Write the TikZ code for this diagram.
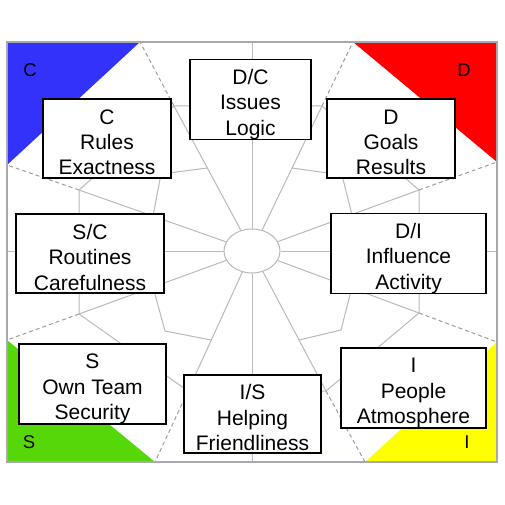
\documentclass[tikz,border=0pt]{standalone}
\usepackage{fontspec}
\setmainfont{Liberation Sans}
\usetikzlibrary{shapes.geometric}
\definecolor{webgray}{RGB}{185,185,190}
\definecolor{dashgray}{RGB}{155,155,162}
\definecolor{framegray}{RGB}{168,168,176}
\definecolor{cblue}{RGB}{50,50,250}
\definecolor{dred}{RGB}{255,0,0}
\definecolor{sgreen}{RGB}{85,215,10}
\definecolor{iyellow}{RGB}{255,255,0}
\newcommand{\bxt}[3]{\rule{0pt}{24.5pt}#1\\#2\\#3\rule[-2.5pt]{0pt}{2.5pt}}
\begin{document}
\begin{tikzpicture}[x=1pt,y=-1pt,
  web/.style={draw=webgray,line width=1pt},
  dashweb/.style={draw=dashgray,line width=1pt,dash pattern=on 4pt off 3pt},
  framerule/.style={draw=framegray,line width=2pt},
  dbox/.style={draw=black,fill=white,line width=1.2pt,inner sep=0pt,align=center,
    font=\fontsize{21pt}{25.5pt}\selectfont},
  corner/.style={inner sep=0pt,font=\fontsize{18.5pt}{22pt}\selectfont},
  hubstyle/.style={ellipse,draw=webgray,fill=white,line width=1pt,inner sep=0pt,
    minimum width=56pt,minimum height=44pt}]
\useasboundingbox (0,0) rectangle (505,505);
% coloured corners
\fill[cblue] (7,42) -- (140,42) -- (7,165) -- cycle;
\fill[dred] (353,42) -- (497,42) -- (497,162) -- cycle;
\fill[sgreen] (7,340) -- (7,462) -- (155,462) -- cycle;
\fill[iyellow] (497,342) -- (497,462) -- (365,462) -- cycle;
% frame points
\coordinate (tN) at (252,42);
\coordinate (tS) at (252,462);
\coordinate (tW) at (7,251);
\coordinate (tE) at (497,251);
\coordinate (tNW1) at (140,42);
\coordinate (tNW2) at (7,165);
\coordinate (tNE1) at (353,42);
\coordinate (tNE2) at (497,162);
\coordinate (tSW1) at (155,462);
\coordinate (tSW2) at (7,340);
\coordinate (tSE1) at (365,462);
\coordinate (tSE2) at (497,342);
% outer ring
\coordinate (oN) at (252,106);
\coordinate (oNE1) at (322,106);
\coordinate (oNE2) at (419,190);
\coordinate (oE) at (419,251);
\coordinate (oSE2) at (419,313);
\coordinate (oSE1) at (326,391);
\coordinate (oS) at (252,391);
\coordinate (oSW1) at (188,391);
\coordinate (oSW2) at (79,314);
\coordinate (oW) at (79,251);
\coordinate (oNW2) at (79,190);
\coordinate (oNW1) at (174,106);
% inner ring
\coordinate (iNW1) at (207.5,168);
\coordinate (mNW) at (161,174);
\coordinate (iNW2) at (153,216);
\coordinate (iW) at (145,251);
\coordinate (iSW2) at (153,287);
\coordinate (mSW) at (165,331);
\coordinate (iSW1) at (211,340);
\coordinate (iNE1) at (292,168);
\coordinate (mNE) at (342,175);
\coordinate (iNE2) at (352,215);
\coordinate (iE) at (359,251);
\coordinate (iSE2) at (352,287);
\coordinate (mSE) at (341,330);
\coordinate (iSE1) at (299,340);
% hub
\node[hubstyle] (hub) at (252,251) {};
% spokes
\foreach \t in {tN,tS,tW,tE}
  \draw[web] (hub) -- (\t);
\foreach \o in {oNW1,oNW2,oNE1,oNE2,oSW1,oSW2,oSE1,oSE2}
  \draw[web] (hub) -- (\o);
% dashed outer parts
\draw[dashweb] (oNW1) -- (tNW1);
\draw[dashweb] (oNW2) -- (tNW2);
\draw[dashweb] (oNE1) -- (tNE1);
\draw[dashweb] (oNE2) -- (tNE2);
\draw[dashweb] (oSW1) -- (tSW1);
\draw[dashweb] (oSW2) -- (tSW2);
\draw[dashweb] (oSE1) -- (tSE1);
\draw[dashweb] (oSE2) -- (tSE2);
% rings
\draw[web] (oN) -- (oNE1) -- (oNE2) -- (oE) -- (oSE2) -- (oSE1) -- (oS) -- (oSW1)
  -- (oSW2) -- (oW) -- (oNW2) -- (oNW1) -- cycle;
\draw[web] (iNW1) -- (mNW) -- (iNW2) -- (iW) -- (iSW2) -- (mSW) -- (iSW1);
\draw[web] (iNE1) -- (mNE) -- (iNE2) -- (iE) -- (iSE2) -- (mSE) -- (iSE1);
% frame
\draw[framerule] (7,42) rectangle (497,462);
% boxes
\node[dbox,minimum width=128pt,minimum height=79pt] (bC) at (107,138.5) {\bxt{C}{Rules}{Exactness}};
\node[dbox,minimum width=121pt,minimum height=79pt] (bDC) at (250.5,99.5) {\bxt{D/C}{Issues}{Logic}};
\node[dbox,minimum width=128pt,minimum height=79pt] (bD) at (391,138.5) {\bxt{D}{Goals}{Results}};
\node[dbox,minimum width=148pt,minimum height=79pt] (bSC) at (90,253.5) {\bxt{S/C}{Routines}{Carefulness}};
\node[dbox,minimum width=155pt,minimum height=79pt] (bDI) at (408.5,253.5) {\bxt{D/I}{Influence}{Activity}};
\node[dbox,minimum width=147pt,minimum height=78pt] (bS) at (92.5,384) {\bxt{S}{Own Team}{Security}};
\node[dbox,minimum width=137pt,minimum height=78pt] (bIS) at (252.5,414) {\bxt{I/S}{Helping}{Friendliness}};
\node[dbox,minimum width=145pt,minimum height=80pt] (bI) at (413.5,388) {\bxt{I}{People}{Atmosphere}};
% corner letters
\node[corner] (lC) at (30,70) {C};
\node[corner] (lD) at (464,70) {D};
\node[corner] (lS) at (29,442) {S};
\node[corner] (lI) at (467,442) {I};
\end{tikzpicture}
\end{document}
